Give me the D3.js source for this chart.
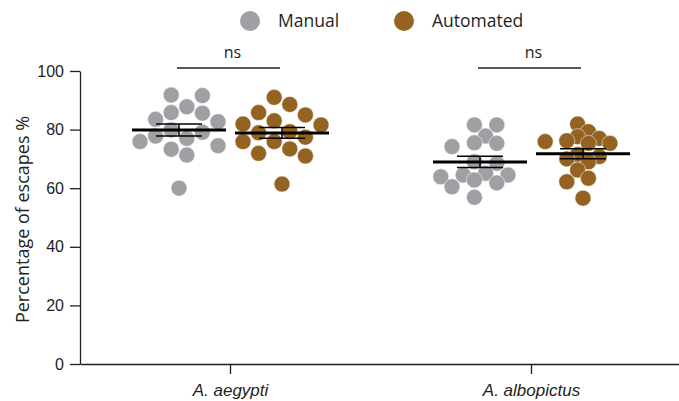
<!DOCTYPE html>
<html>
<head>
<meta charset="utf-8">
<script src="https://cdn.jsdelivr.net/npm/d3@7.9.0/dist/d3.min.js"></script>
<style>
  html, body { margin: 0; padding: 0; background: #fff; }
  svg { display: block; font-family: "Open Sans", "Noto Sans", sans-serif; }
</style>
</head>
<body>
<svg id="chart" width="679" height="401"></svg>
<script>
// species on the x axis, and the two methods within each species
const species = ['A. aegypti', 'A. albopictus'];
const methods = ['Manual', 'Automated'];

// percentage of escapes per replicate
const aegyptiManual = [91.8, 91.6, 87.8, 85.8, 85.6, 83.5, 82.7, 79.9, 79.1, 77.8, 77.0, 75.9, 74.5, 73.3, 71.3, 60.0];
const aegyptiAutomated = [91.0, 88.6, 85.8, 85.0, 83.0, 81.9, 81.6, 79.3, 78.9, 77.4, 75.9, 75.9, 73.4, 71.9, 71.0, 61.4];
const albopictusManual = [81.6, 81.6, 77.8, 75.5, 75.3, 74.2, 69.0, 68.5, 65.1, 64.5, 64.5, 63.9, 62.8, 61.8, 60.5, 56.9];
const albopictusAutomated = [81.9, 79.3, 77.6, 77.0, 76.2, 75.9, 75.3, 75.3, 71.5, 70.8, 70.0, 69.0, 66.2, 63.4, 62.2, 56.6];

const yTicks = [0, 20, 40, 60, 80, 100];
const significance = ['ns', 'ns'];

const colors = { Manual: '#a09fa4', Automated: '#946322' };
const ink = '#231f20';

const groups = [
  { species: species[0], method: methods[0], values: aegyptiManual },
  { species: species[0], method: methods[1], values: aegyptiAutomated },
  { species: species[1], method: methods[0], values: albopictusManual },
  { species: species[1], method: methods[1], values: albopictusAutomated }
];

const svg = d3.select('#chart');
const plot = { left: 80, right: 682, top: 71, bottom: 364 };

const y = d3.scaleLinear().domain([0, 100]).range([plot.bottom, plot.top]);
const x = d3.scaleBand().domain(species).range([plot.left, plot.right]).padding(0);
const xSub = d3.scalePoint().domain(methods).range([-51.5, 51.5]);
const groupX = (g) => x(g.species) + x.bandwidth() / 2 + xSub(g.method);

const r = 8;
const maxHalfWidth = 40; // columns get squeezed when a group would spread wider

// Prism-like swarm: dots sit in columns at half-step offsets,
// a dot with no neighbours at its height stays on the centre line
function swarmWith(values, step) {
  const placed = [];
  values.forEach((v, i) => {
    const py = y(v);
    const alone = values.every((w, j) => j === i || Math.abs(y(w) - py) >= 2 * r);
    if (alone) { placed.push({ dx: 0, py, v }); return; }
    for (let k = 0; k < 20; k++) {
      const off = (k % 2 === 0 ? -1 : 1) * (Math.floor(k / 2) + 0.5) * step;
      const ok = placed.every((p) => Math.hypot(p.dx - off, p.py - py) >= step * 1.06);
      if (ok) { placed.push({ dx: off, py, v }); break; }
    }
  });
  return placed;
}

function swarm(values) {
  let step = 15.6;
  let placed = swarmWith(values, step);
  while (d3.max(placed, (p) => Math.abs(p.dx)) > maxHalfWidth && step > 8) {
    step -= 0.4;
    placed = swarmWith(values, step);
  }
  return placed;
}

// axes
const yAxis = d3.axisLeft(y).tickValues(yTicks).tickSize(10).tickSizeOuter(0).tickPadding(6);
svg.append('g')
  .attr('transform', `translate(${plot.left},0)`)
  .call(yAxis)
  .call((g) => g.selectAll('path, line').attr('stroke', ink).attr('stroke-width', 1.3))
  .call((g) => g.selectAll('text').attr('fill', ink).attr('font-size', 16).attr('font-family', null));

const xAxis = d3.axisBottom(x).tickSize(10).tickSizeOuter(0).tickPadding(10);
svg.append('g')
  .attr('transform', `translate(0,${plot.bottom})`)
  .call(xAxis)
  .call((g) => g.selectAll('path, line').attr('stroke', ink).attr('stroke-width', 1.3))
  .call((g) => g.selectAll('text').attr('fill', ink).attr('font-size', 17)
    .attr('font-style', 'italic').attr('font-family', null));

svg.append('text')
  .attr('transform', `translate(29,${(plot.top + plot.bottom) / 2 + 2}) rotate(-90)`)
  .attr('text-anchor', 'middle')
  .attr('fill', ink)
  .attr('font-size', 18)
  .text('Percentage of escapes %');

// dots
groups.forEach((g) => {
  const cx = groupX(g);
  svg.append('g').selectAll('circle')
    .data(swarm(g.values))
    .join('circle')
    .attr('cx', (d) => cx + d.dx)
    .attr('cy', (d) => d.py)
    .attr('r', r)
    .attr('fill', colors[g.method])
    .attr('stroke', '#fff')
    .attr('stroke-width', 0.5);
});

// mean and SEM bars
groups.forEach((g) => {
  const cx = groupX(g);
  const m = d3.mean(g.values);
  const sem = d3.deviation(g.values) / Math.sqrt(g.values.length);
  const bar = svg.append('g').attr('stroke', '#000');
  bar.append('line')
    .attr('x1', cx - 47).attr('x2', cx + 47)
    .attr('y1', y(m)).attr('y2', y(m))
    .attr('stroke-width', 3);
  bar.append('line')
    .attr('x1', cx).attr('x2', cx)
    .attr('y1', y(m + sem)).attr('y2', y(m - sem))
    .attr('stroke-width', 1.5);
  [m + sem, m - sem].forEach((v) => {
    bar.append('line')
      .attr('x1', cx - 23).attr('x2', cx + 23)
      .attr('y1', y(v)).attr('y2', y(v))
      .attr('stroke-width', 1.5);
  });
});

// significance brackets
species.forEach((s, i) => {
  const x1 = groupX({ species: s, method: methods[0] });
  const x2 = groupX({ species: s, method: methods[1] });
  svg.append('line')
    .attr('x1', x1 - 2).attr('x2', x2 - 2)
    .attr('y1', 68).attr('y2', 68)
    .attr('stroke', ink).attr('stroke-width', 1.3);
  svg.append('text')
    .attr('x', (x1 + x2) / 2 + 2).attr('y', 58)
    .attr('text-anchor', 'middle')
    .attr('fill', ink).attr('font-size', 16)
    .text(significance[i]);
});

// legend
const legendX = [250, 404];
methods.forEach((mth, i) => {
  svg.append('circle')
    .attr('cx', legendX[i]).attr('cy', 21).attr('r', 10)
    .attr('fill', colors[mth]);
  svg.append('text')
    .attr('x', legendX[i] + 28).attr('y', 21)
    .attr('dy', '0.35em')
    .attr('fill', ink).attr('font-size', 17.5)
    .text(mth);
});
</script>
</body>
</html>
